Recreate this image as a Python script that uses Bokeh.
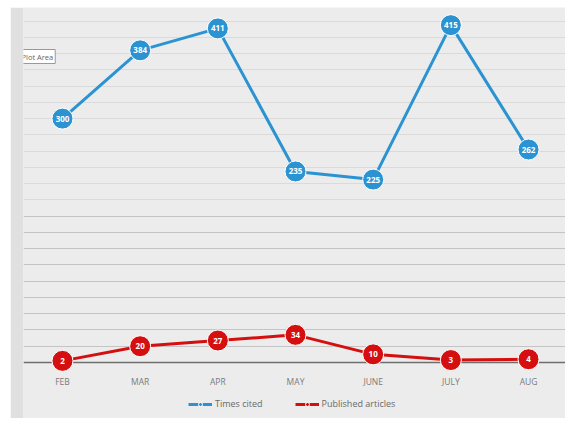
from bokeh.plotting import figure
from bokeh.models import (ColumnDataSource, Legend, LegendItem, FixedTicker, Label, Grid)
from bokeh.embed import file_html
from bokeh.resources import INLINE
from bokeh.core.properties import value

months = ["FEB", "MAR", "APR", "MAY", "JUNE", "JULY", "AUG"]
times_cited = [300, 384, 411, 235, 225, 415, 262]
published = [2, 20, 27, 34, 10, 3, 4]
grid_low = list(range(20, 200, 20))
grid_high = list(range(200, 440, 20))

xs = list(range(len(months)))
src_c = ColumnDataSource(dict(x=xs, y=times_cited, t=[str(v) for v in times_cited]))
src_p = ColumnDataSource(dict(x=xs, y=published, t=[str(v) for v in published]))

BG = "#ececec"
BLUE = "#2b93d1"
RED = "#d50f0f"

p = figure(width=555, height=411, output_backend="svg", toolbar_location=None,
           x_range=(-0.502, 6.476), y_range=(-68.9, 436.7),
           min_border_left=13, min_border_right=0, min_border_top=0, min_border_bottom=0,
           background_fill_color=BG, border_fill_color="#e0e0e0", outline_line_color=None)
p.styles = {"margin-left": "10px", "margin-top": "7px"}

p.yaxis.visible = False
p.xgrid.visible = False
p.ygrid.ticker = FixedTicker(ticks=grid_low)
p.ygrid.grid_line_color = "#c4c4c4"
p.ygrid.grid_line_width = 1
g2 = Grid(dimension=1, ticker=FixedTicker(ticks=grid_high),
          grid_line_color="#dadada", grid_line_width=1)
p.add_layout(g2)

p.xaxis.fixed_location = 0
p.xaxis.level = "underlay"
p.xaxis.ticker = FixedTicker(ticks=xs)
p.xaxis.major_label_overrides = {i: m for i, m in enumerate(months)}
p.xaxis.axis_line_color = "#6e6e6e"
p.xaxis.axis_line_width = 1.5
p.xaxis.major_tick_line_color = None
p.xaxis.minor_tick_line_color = None
p.xaxis.major_label_text_font = "Open Sans"
p.xaxis.major_label_text_font_size = "8.5px"
p.xaxis.major_label_text_color = "#7a7a7a"
p.xaxis.major_label_standoff = 8

lc = p.line("x", "y", source=src_c, line_color=BLUE, line_width=3)
mc = p.scatter("x", "y", source=src_c, size=21, fill_color=BLUE, line_color="white", line_width=1)
p.text("x", "y", text="t", source=src_c, text_color="white", text_font=value("Open Sans"),
       text_font_size="8px", text_font_style="bold", text_align="center", text_baseline="middle")

lp = p.line("x", "y", source=src_p, line_color=RED, line_width=3)
mp = p.scatter("x", "y", source=src_p, size=21, fill_color=RED, line_color="white", line_width=1)
p.text("x", "y", text="t", source=src_p, text_color="white", text_font=value("Open Sans"),
       text_font_size="8px", text_font_style="bold", text_align="center", text_baseline="middle")

legend = Legend(items=[LegendItem(label="Times cited", renderers=[lc, mc]),
                       LegendItem(label="Published articles", renderers=[lp, mp])],
                orientation="horizontal", location=(165, 8),
                background_fill_alpha=0, border_line_color=None,
                label_text_font="Open Sans", label_text_font_size="9px",
                label_text_color="#6a6a6a", glyph_width=24, glyph_height=10,
                spacing=32, padding=2, margin=0, label_standoff=3)
p.add_layout(legend)

tip = Label(x=-4, y=355, x_units="screen", y_units="screen", text="Plot Area",
            text_font="Open Sans", text_font_size="7.5px", text_color="#666666",
            background_fill_color="white", border_line_color="#999999",
            padding=2)
p.add_layout(tip)

open("out.html", "w").write(file_html(p, INLINE))
